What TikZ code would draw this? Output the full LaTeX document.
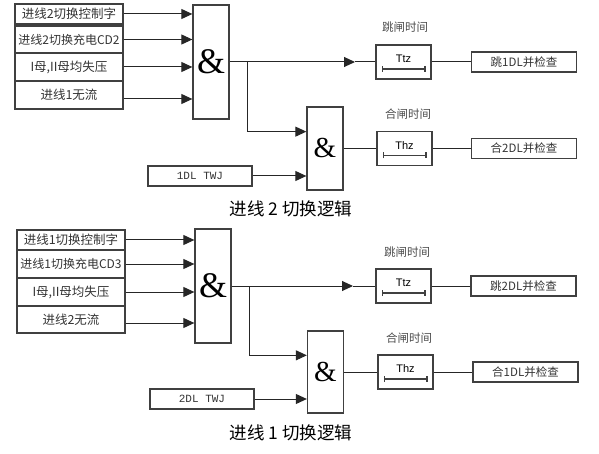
\documentclass[tikz,border=0pt]{standalone}
\usepackage{fontspec}
\newfontfamily\cjk{Noto Sans CJK SC}
\newfontfamily\arial{Liberation Sans}
\newfontfamily\serifamp{Liberation Serif}
\newfontfamily\mono{Liberation Mono}
\usetikzlibrary{arrows.meta,calc}

\begin{document}
\begin{tikzpicture}[x=1pt, y=-1pt, line width=1pt,
    in node/.style={rectangle,draw=black!75,line width=1.3pt,inner sep=0pt,minimum width=108pt,font=\cjk\fontsize{12.5}{12.5}\selectfont,text=black!80},
    gate node/.style={rectangle,draw=black!75,line width=1.3pt,minimum width=36pt,inner sep=0pt,font=\serifamp\fontsize{36}{36}\selectfont},
    time node/.style={rectangle,draw=black!75,line width=1.3pt,minimum width=55pt,minimum height=34pt,inner sep=0pt},
    t node/.style={font=\arial\fontsize{11}{11}\selectfont,inner sep=0pt},
    out node/.style={rectangle,draw=black!75,line width=1.3pt,minimum width=105pt,minimum height=20pt,inner sep=0pt,font=\cjk\fontsize{11.5}{11.5}\selectfont,text=black!80},
    tag/.style={font=\cjk\fontsize{11.5}{11.5}\selectfont,text=black!70,inner sep=0pt},
    sig/.style={-{Triangle[length=11pt,width=10pt]},black!85},
    wire/.style={black!85},
    bar/.style={black!75,line width=1.2pt,{Bar[width=6pt]}-{Bar[width=6pt]}}]

  \useasboundingbox (0,0) rectangle (599,454);

  % 进线2 切换逻辑
  \node[in node,minimum height=20pt] (in1) at (69,14) {进线2切换控制字};
  \node[in node,minimum height=27pt,font=\cjk\fontsize{12}{12}\selectfont] (in2) at (69,39.5) {进线2切换充电CD2};
  \node[in node,minimum height=28pt] (in3) at (69,67) {I母,II母均失压};
  \node[in node,minimum height=28pt] (in4) at (69,95) {进线1无流};
  \node[gate node,minimum height=114pt] (and1) at (211,62) {\&};
  \node[gate node,minimum height=83pt,font=\serifamp\fontsize{29}{29}\selectfont] (and2) at (325,148.5) {\&};
  \node[in node,minimum width=104pt,minimum height=20pt,font=\mono\fontsize{11}{11}\selectfont] (tw1) at (200,176) {1DL TWJ};
  \node[time node] (tz1) at (403.5,62) {};
  \node[t node] (tz1t) at ([yshift=3pt]tz1.center) {Ttz};
  \node[tag] (lb1) at (405,27) {跳闸时间};
  \node[time node] (hz1) at (404.5,148.5) {};
  \node[t node] (hz1t) at ([yshift=3pt]hz1.center) {Thz};
  \node[tag] (lb2) at (408,114) {合闸时间};
  \node[out node] (out1) at (524,62) {跳1DL并检查};
  \node[out node] (out2) at (524,148.5) {合2DL并检查};
  \node[font=\cjk\fontsize{17.5}{17.5}\selectfont] (cap1) at (291,209) {进线 2 切换逻辑};

  \coordinate (m1) at (355,62);
  \coordinate (b1) at ($(and1.east)+(18,0)$);

\path[sig]
    (in1.east) edge (in1.east -| and1.west)
    (in2.east) edge (in2.east -| and1.west)
    (in3.east) edge (in3.east -| and1.west)
    ([yshift=-4pt]in4.east) edge ([yshift=-4pt]in4.east -| and1.west)
    (tw1.east) edge (tw1.east -| and2.west)
    (and1.east) edge (m1);
  \draw[sig] (b1) |- ($(and2.north west)!0.3!(and2.south west)$);
  \draw[wire] (m1) -- (tz1.west) (tz1.east) -- (out1.west);
  \draw[wire] (and2.east) -- (hz1.west) (hz1.east) -- (out2.west);
  \draw[bar] ([shift={(-22,7)}]tz1.center) -- ([shift={(22,7)}]tz1.center);
  \draw[bar] ([shift={(-22,7)}]hz1.center) -- ([shift={(22,7)}]hz1.center);

  % 进线1 切换逻辑
  \node[in node,minimum height=20pt] (in5) at (71,240) {进线1切换控制字};
  \node[in node,minimum height=28pt,font=\cjk\fontsize{12}{12}\selectfont] (in6) at (71,264) {进线1切换充电CD3};
  \node[in node,minimum height=28pt] (in7) at (71,292) {I母,II母均失压};
  \node[in node,minimum height=27pt] (in8) at (71,319.5) {进线2无流};
  \node[gate node,minimum height=114pt] (and3) at (213,286) {\&};
  \node[gate node,minimum height=82pt,font=\serifamp\fontsize{29}{29}\selectfont] (and4) at (325.5,372) {\&};
  \node[in node,minimum width=104pt,minimum height=20pt,font=\mono\fontsize{11}{11}\selectfont] (tw2) at (202,399) {2DL TWJ};
  \node[time node] (tz2) at (403.5,286) {};
  \node[t node] (tz2t) at ([yshift=3pt]tz2.center) {Ttz};
  \node[tag] (lb3) at (407,252) {跳闸时间};
  \node[time node] (hz2) at (405.5,372) {};
  \node[t node] (hz2t) at ([yshift=3pt]hz2.center) {Thz};
  \node[tag] (lb4) at (409,338) {合闸时间};
  \node[out node] (out3) at (523.5,286) {跳2DL并检查};
  \node[out node] (out4) at (525.5,372) {合1DL并检查};
  \node[font=\cjk\fontsize{17.5}{17.5}\selectfont] (cap2) at (291,433) {进线 1 切换逻辑};

  \coordinate (m2) at (353,286);
  \coordinate (b2) at ($(and3.east)+(18,0)$);

\path[sig]
    (in5.east) edge (in5.east -| and3.west)
    (in6.east) edge (in6.east -| and3.west)
    (in7.east) edge (in7.east -| and3.west)
    ([yshift=-3.5pt]in8.east) edge ([yshift=-3.5pt]in8.east -| and3.west)
    (tw2.east) edge (tw2.east -| and4.west)
    (and3.east) edge (m2);
  \draw[sig] (b2) |- ($(and4.north west)!0.3!(and4.south west)$);
  \draw[wire] (m2) -- (tz2.west) (tz2.east) -- (out3.west);
  \draw[wire] (and4.east) -- (hz2.west) (hz2.east) -- (out4.west);
  \draw[bar] ([shift={(-22,7)}]tz2.center) -- ([shift={(22,7)}]tz2.center);
  \draw[bar] ([shift={(-22,7)}]hz2.center) -- ([shift={(22,7)}]hz2.center);

\end{tikzpicture}
\end{document}
